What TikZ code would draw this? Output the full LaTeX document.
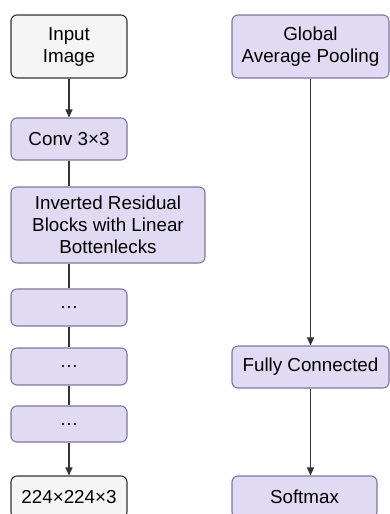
\documentclass[tikz,border=0pt]{standalone}
\usepackage{fontspec}
\setmainfont{Liberation Sans}
\usetikzlibrary{positioning}
\usetikzlibrary{arrows.meta}
\definecolor{lavender}{HTML}{E0DBF2}
\definecolor{lavline}{HTML}{7E76A2}
\definecolor{paper}{HTML}{F5F5F5}
\definecolor{ink}{HTML}{333333}
\tikzset{
  box/.style     = { rectangle, minimum width=116pt, minimum height=42pt, inner sep=0pt, align=center },
  border/.style  = { line width=1.1pt },
  round/.style   = { rounded corners=6pt },
}
\tikzset{
  layer/.style   = { box, border, round, fill=lavender, draw=lavline },
  tensor/.style  = { box, border, round, fill=paper, draw=ink }
}

\begin{document}
\begin{tikzpicture}[
  x=1pt,y=-1pt,
  >={Triangle[width=7pt,length=8pt]},line width=1.1pt,ink,text=black,
  font=\fontsize{18.8}{22}\selectfont
]
  \useasboundingbox (0,0) rectangle (390,514);

  \node (in)   [tensor,minimum height=63pt]                  at (69,46.5)    {Input\\Image};
  \node (conv) [layer]                                       at (69,139)     {Conv 3×3};
  \node (irb)  [layer,minimum width=194pt,minimum height=76pt] at (108,225)  {Inverted Residual\\Blocks with Linear\\Bottenlecks};
  \node (d1)   [layer,minimum height=37pt]                   at (69,307.5)   {\dots};
  \node (d2)   [layer,minimum height=37pt]                   at (69,366.5)   {\dots};
  \node (d3)   [layer,minimum height=36pt]                   at (69,424)     {\dots};
  \node (out)  [tensor]                                      at (69,497)     {224×224×3};

  \node (gap)  [layer,minimum width=157pt,minimum height=63pt] at (310.5,46.5) {Global\\Average Pooling};
  \node (fc)   [layer,minimum width=157pt]                   at (310.5,367)  {Fully Connected};
  \node (sm)   [layer,minimum width=145pt]                   at (304.5,497)  {Softmax};

  \draw [->] (in)   -- (conv);
  \draw      (conv) -- (conv.south |- irb.north);
  \draw      (d1.north |- irb.south) -- (d1);
  \draw      (d1)   -- (d2);
  \draw      (d2)   -- (d3);
  \draw [->] (d3)   -- (out);

  \draw [->] (gap)  -- (fc);
  \draw [->] (fc)   -- (fc.south |- sm.north);

\end{tikzpicture}
\end{document}
